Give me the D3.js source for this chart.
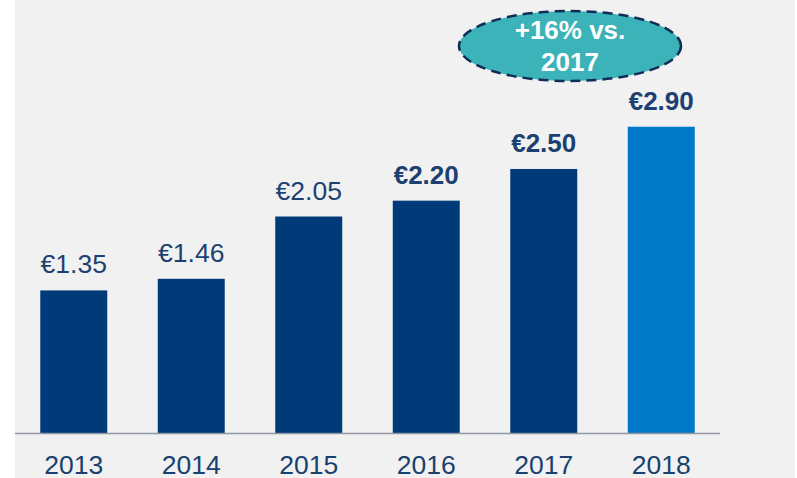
<!DOCTYPE html>
<html>
<head>
<meta charset="utf-8">
<script src="https://cdn.jsdelivr.net/npm/d3@7"></script>
<style>
  body { margin: 0; background: #ffffff; }
  svg { display: block; font-family: "Liberation Sans", Arial, sans-serif; }
</style>
</head>
<body>
<svg id="chart" width="797" height="478"></svg>
<script>
// data
var years = ["2013", "2014", "2015", "2016", "2017", "2018"];
var values = [1.35, 1.46, 2.05, 2.20, 2.50, 2.90];
var valueLabels = ["€1.35", "€1.46", "€2.05", "€2.20", "€2.50", "€2.90"];
var boldLabel = [false, false, false, true, true, true];
var calloutLines = ["+16% vs.", "2017"];

var svg = d3.select("#chart");

// grey panel
svg.append("rect")
    .attr("x", 15).attr("y", 0)
    .attr("width", 780).attr("height", 478)
    .attr("fill", "#f1f1f1");

var x = d3.scaleBand()
    .domain(years)
    .range([15, 720])
    .paddingInner(0.43)
    .paddingOuter(0.215);

var y = d3.scaleLinear()
    .domain([0, 4.1])
    .range([433, 0]);

// bars
svg.selectAll(".bar")
    .data(values)
    .enter()
    .append("rect")
    .attr("class", "bar")
    .attr("x", (d, i) => x(years[i]))
    .attr("y", (d) => y(d))
    .attr("width", x.bandwidth())
    .attr("height", (d) => y(0) - y(d))
    .attr("fill", (d, i) => i === years.length - 1 ? "#0079c9" : "#003a78");

// value labels
svg.selectAll(".val")
    .data(values)
    .enter()
    .append("text")
    .attr("class", "val")
    .attr("x", (d, i) => x(years[i]) + x.bandwidth() / 2)
    .attr("y", (d) => y(d) - 17)
    .attr("text-anchor", "middle")
    .style("font-size", (d, i) => boldLabel[i] ? "26px" : "26.5px")
    .style("font-weight", (d, i) => boldLabel[i] ? "bold" : "normal")
    .attr("fill", "#1c4170")
    .text((d, i) => valueLabels[i]);

// axis line
svg.append("line")
    .attr("x1", 15).attr("x2", 720)
    .attr("y1", y(0) + 0.5).attr("y2", y(0) + 0.5)
    .attr("stroke", "#9097a3")
    .attr("stroke-width", 1.5);

// year labels
var xAxis = svg.append("g")
    .attr("transform", "translate(0," + y(0) + ")")
    .call(d3.axisBottom(x).tickSize(0).tickPadding(0));
xAxis.select(".domain").remove();
xAxis.selectAll("text")
    .attr("dy", null)
    .attr("y", 41)
    .style("font-family", "'Liberation Sans', Arial, sans-serif")
    .style("font-size", "26.5px")
    .attr("fill", "#17416f");

// callout
var cx = 570, cy = 46;
svg.append("ellipse")
    .attr("cx", cx).attr("cy", cy)
    .attr("rx", 111).attr("ry", 35)
    .attr("fill", "#3bb3b8")
    .attr("stroke", "#0f2d55")
    .attr("stroke-width", 2.5)
    .attr("stroke-dasharray", "10,6");

svg.selectAll(".callout")
    .data(calloutLines)
    .enter()
    .append("text")
    .attr("class", "callout")
    .attr("x", cx)
    .attr("y", (d, i) => 39 + i * 32)
    .attr("text-anchor", "middle")
    .style("font-size", "26px")
    .style("font-weight", "bold")
    .attr("fill", "#ffffff")
    .text((d) => d);
</script>
</body>
</html>
